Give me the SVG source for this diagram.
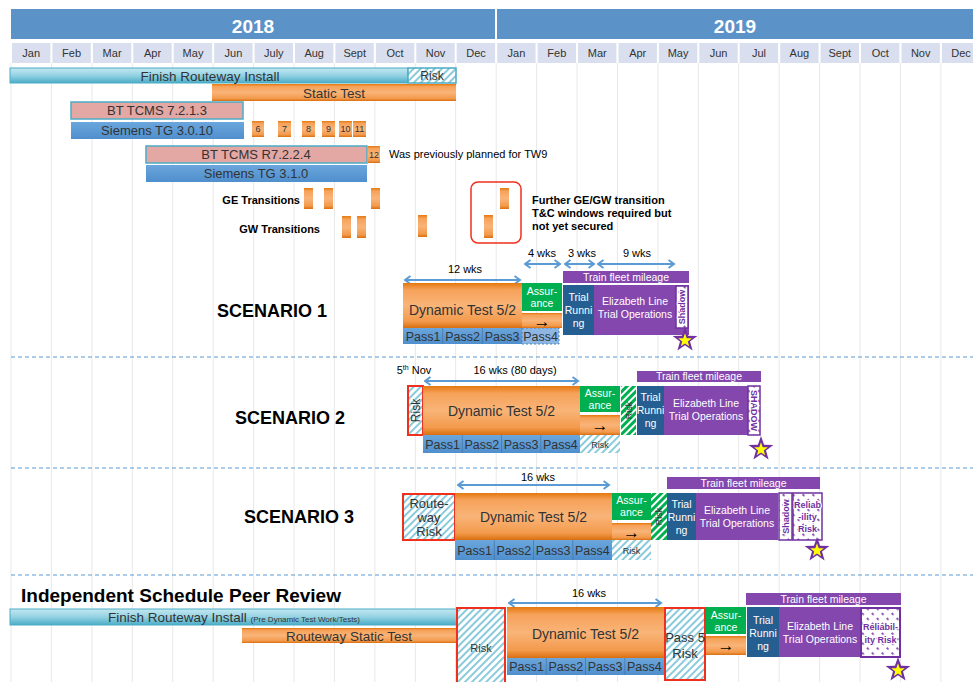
<svg xmlns="http://www.w3.org/2000/svg" xmlns:xlink="http://www.w3.org/1999/xlink" width="973" height="682" viewBox="0 0 973 682">
<style>
text{font-family:"Liberation Sans",Arial,sans-serif}
.m{font-size:11px;fill:#333;text-anchor:middle}
.yr{font-size:19px;font-weight:bold;fill:#fff;text-anchor:middle}
.b{font-size:13px;fill:#333;text-anchor:middle}
.d{font-size:14px;fill:#333;text-anchor:middle}
.p{font-size:12.5px;fill:#333;text-anchor:middle}
.ar{font-size:17px;fill:#000;text-anchor:middle}
.n{font-size:9px;fill:#333;text-anchor:middle}
.w{font-size:10.5px;fill:#fff;text-anchor:middle}
.k{font-size:11px;fill:#000}
.kb{font-size:11px;fill:#000;font-weight:bold}
.sc{font-size:18px;font-weight:bold;fill:#000}
.wk{font-size:11px;fill:#000;text-anchor:middle}
.sh{font-size:9px;fill:#7030A0;text-anchor:middle;stroke:#fff;stroke-width:2.2;paint-order:stroke;font-weight:bold}
.grid line{stroke:#E8E8E8;stroke-width:1}
.cell{fill:#D9DFEE}
.cy{fill:url(#gcy);stroke:#4BACC6;stroke-width:1}
.or{fill:url(#gor)}
.pk{fill:#E3A7A4;stroke:#4BACC6;stroke-width:1.5}
.bl{fill:url(#gbl)}
.gr{fill:#00B050}
.pu{fill:#8447AE}
.tr{fill:#255E91}
.rk{fill:url(#hc);stroke:#F0301C;stroke-width:2}
.hcy{fill:url(#hc)}
.hgr{fill:url(#hg)}
.hpu{fill:url(#hp);stroke:#7030A0;stroke-width:1.5}
.arr{stroke:#5B9BD5;stroke-width:2;fill:none;marker-start:url(#ah);marker-end:url(#ah)}
.sep{stroke:#5B9BD5;stroke-width:1.2;stroke-dasharray:4 3}
.ps{stroke:#3E6C9A;stroke-width:0.6}
</style>
<defs>
<linearGradient id="gcy" x1="0" y1="0" x2="0" y2="1"><stop offset="0" stop-color="#C4E8F1"/><stop offset="0.5" stop-color="#93D2E3"/><stop offset="1" stop-color="#4BACC6"/></linearGradient>
<linearGradient id="gor" x1="0" y1="0" x2="0" y2="1"><stop offset="0" stop-color="#E4780E"/><stop offset="0.15" stop-color="#F6A25A"/><stop offset="0.5" stop-color="#F9B478"/><stop offset="0.85" stop-color="#F39A4C"/><stop offset="1" stop-color="#D96F10"/></linearGradient>
<linearGradient id="gbl" x1="0" y1="0" x2="0" y2="1"><stop offset="0" stop-color="#6BA6DC"/><stop offset="1" stop-color="#4F8FCD"/></linearGradient>
<pattern id="hc" width="5" height="5" patternUnits="userSpaceOnUse" patternTransform="rotate(45)"><rect width="5" height="5" fill="#fff"/><line x1="1" y1="0" x2="1" y2="5" stroke="#6CBDD3" stroke-width="1.6"/></pattern>
<pattern id="hg" width="5" height="5" patternUnits="userSpaceOnUse" patternTransform="rotate(45)"><rect width="5" height="5" fill="#fff"/><line x1="1.5" y1="0" x2="1.5" y2="5" stroke="#00B050" stroke-width="3"/></pattern>
<pattern id="hp" width="7" height="7" patternUnits="userSpaceOnUse" patternTransform="rotate(-45)"><rect width="7" height="7" fill="#fff"/><line x1="1" y1="0" x2="1" y2="2.5" stroke="#8447AE" stroke-width="1.8"/></pattern>
<marker id="ah" markerWidth="8" markerHeight="10" refX="6.5" refY="5" orient="auto-start-reverse" markerUnits="userSpaceOnUse"><path d="M1,1 L6.5,5 L1,9" fill="none" stroke="#5B9BD5" stroke-width="2"/></marker>
<g id="star"><polygon points="0,-13 3.1,-4.3 12.4,-4 5,1.6 7.6,10.5 0,5.3 -7.6,10.5 -5,1.6 -12.4,-4 -3.1,-4.3" fill="#7030A0"/><polygon points="0,-13 3.1,-4.3 12.4,-4 5,1.6 7.6,10.5 0,5.3 -7.6,10.5 -5,1.6 -12.4,-4 -3.1,-4.3" fill="#FFFF00" transform="translate(0,0.5) scale(0.55)"/></g>
</defs>
<rect width="973" height="682" fill="#fff"/>

<g id="header">
<rect x="11" y="9" width="484" height="30" fill="#5B93C9"/>
<rect x="497" y="9" width="476" height="30" fill="#5B93C9"/>
<text class="yr" x="253" y="33">2018</text>
<text class="yr" x="735" y="33">2019</text>
<rect class="cell" x="12" y="43" width="38.4" height="20"/>
<rect class="cell" x="52.4" y="43" width="38.4" height="20"/>
<rect class="cell" x="92.9" y="43" width="38.4" height="20"/>
<rect class="cell" x="133.3" y="43" width="38.4" height="20"/>
<rect class="cell" x="173.7" y="43" width="38.4" height="20"/>
<rect class="cell" x="214.2" y="43" width="38.4" height="20"/>
<rect class="cell" x="254.6" y="43" width="38.4" height="20"/>
<rect class="cell" x="295" y="43" width="38.4" height="20"/>
<rect class="cell" x="335.4" y="43" width="38.4" height="20"/>
<rect class="cell" x="375.9" y="43" width="38.4" height="20"/>
<rect class="cell" x="416.3" y="43" width="38.4" height="20"/>
<rect class="cell" x="456.7" y="43" width="38.4" height="20"/>
<rect class="cell" x="497.2" y="43" width="38.4" height="20"/>
<rect class="cell" x="537.6" y="43" width="38.4" height="20"/>
<rect class="cell" x="578" y="43" width="38.4" height="20"/>
<rect class="cell" x="618.5" y="43" width="38.4" height="20"/>
<rect class="cell" x="658.9" y="43" width="38.4" height="20"/>
<rect class="cell" x="699.3" y="43" width="38.4" height="20"/>
<rect class="cell" x="739.7" y="43" width="38.4" height="20"/>
<rect class="cell" x="780.2" y="43" width="38.4" height="20"/>
<rect class="cell" x="820.6" y="43" width="38.4" height="20"/>
<rect class="cell" x="861" y="43" width="38.4" height="20"/>
<rect class="cell" x="901.5" y="43" width="38.4" height="20"/>
<rect class="cell" x="941.9" y="43" width="38.4" height="20"/>
<text class="m" x="31.2" y="57">Jan</text>
<text class="m" x="71.6" y="57">Feb</text>
<text class="m" x="112.1" y="57">Mar</text>
<text class="m" x="152.5" y="57">Apr</text>
<text class="m" x="193" y="57">May</text>
<text class="m" x="233.4" y="57">Jun</text>
<text class="m" x="273.8" y="57">July</text>
<text class="m" x="314.2" y="57">Aug</text>
<text class="m" x="354.7" y="57">Sept</text>
<text class="m" x="395.1" y="57">Oct</text>
<text class="m" x="435.5" y="57">Nov</text>
<text class="m" x="476" y="57">Dec</text>
<text class="m" x="516.4" y="57">Jan</text>
<text class="m" x="556.8" y="57">Feb</text>
<text class="m" x="597.2" y="57">Mar</text>
<text class="m" x="637.7" y="57">Apr</text>
<text class="m" x="678.1" y="57">May</text>
<text class="m" x="718.5" y="57">Jun</text>
<text class="m" x="759" y="57">Jul</text>
<text class="m" x="799.4" y="57">Aug</text>
<text class="m" x="839.8" y="57">Sept</text>
<text class="m" x="880.2" y="57">Oct</text>
<text class="m" x="920.7" y="57">Nov</text>
<text class="m" x="961.1" y="57">Dec</text>
</g>

<g class="grid">
<line x1="11" y1="63" x2="11" y2="682"/>
<line x1="51.4" y1="63" x2="51.4" y2="682"/>
<line x1="91.9" y1="63" x2="91.9" y2="682"/>
<line x1="132.3" y1="63" x2="132.3" y2="682"/>
<line x1="172.7" y1="63" x2="172.7" y2="682"/>
<line x1="213.2" y1="63" x2="213.2" y2="682"/>
<line x1="253.6" y1="63" x2="253.6" y2="682"/>
<line x1="294" y1="63" x2="294" y2="682"/>
<line x1="334.4" y1="63" x2="334.4" y2="682"/>
<line x1="374.9" y1="63" x2="374.9" y2="682"/>
<line x1="415.3" y1="63" x2="415.3" y2="682"/>
<line x1="455.7" y1="63" x2="455.7" y2="682"/>
<line x1="496.2" y1="63" x2="496.2" y2="682"/>
<line x1="536.6" y1="63" x2="536.6" y2="682"/>
<line x1="577" y1="63" x2="577" y2="682"/>
<line x1="617.5" y1="63" x2="617.5" y2="682"/>
<line x1="657.9" y1="63" x2="657.9" y2="682"/>
<line x1="698.3" y1="63" x2="698.3" y2="682"/>
<line x1="738.7" y1="63" x2="738.7" y2="682"/>
<line x1="779.2" y1="63" x2="779.2" y2="682"/>
<line x1="819.6" y1="63" x2="819.6" y2="682"/>
<line x1="860" y1="63" x2="860" y2="682"/>
<line x1="900.5" y1="63" x2="900.5" y2="682"/>
<line x1="940.9" y1="63" x2="940.9" y2="682"/>
</g>

<g id="separators">
<line class="sep" x1="11" y1="357" x2="973" y2="357"/>
<line class="sep" x1="11" y1="468" x2="973" y2="468"/>
<line class="sep" x1="11" y1="575" x2="973" y2="575"/>
</g>

<g id="routeway">
<rect class="cy" x="10" y="68" width="398" height="15"/>
<rect x="408" y="68" width="48" height="15" fill="url(#hc)" stroke="#4BACC6" stroke-width="1.5"/>
<text class="b" x="210" y="80.5" style="font-size:13.5px">Finish Routeway Install</text>
<text class="b" x="432" y="80" style="font-size:12px">Risk</text>
</g>
<g id="static">
<rect class="or" x="212" y="84" width="244" height="17"/>
<text class="b" x="334" y="97.5" style="font-size:13.5px">Static Test</text>
</g>
<g id="bt1">
<rect class="pk" x="71" y="102" width="172" height="17"/>
<text class="b" x="157" y="115">BT TCMS 7.2.1.3</text>
</g>
<g id="sie1">
<rect class="bl" x="71" y="122" width="173" height="17"/>
<text class="b" x="157" y="135">Siemens TG 3.0.10</text>
</g>
<g id="tw">
<rect class="or" x="252" y="121" width="12" height="16"/><text class="n" x="258" y="132">6</text>
<rect class="or" x="278" y="121" width="13" height="16"/><text class="n" x="284.5" y="132">7</text>
<rect class="or" x="302" y="121" width="13" height="16"/><text class="n" x="308.5" y="132">8</text>
<rect class="or" x="322" y="121" width="13" height="16"/><text class="n" x="328.5" y="132">9</text>
<rect class="or" x="339" y="121" width="13" height="16"/><text class="n" x="345.5" y="132">10</text>
<rect class="or" x="353" y="121" width="13" height="16"/><text class="n" x="359.5" y="132">11</text>
<rect class="or" x="368" y="146" width="12" height="17"/><text class="n" x="374" y="158">12</text>
</g>
<g id="bt2">
<rect class="pk" x="146" y="146" width="221" height="17"/>
<text class="b" x="256" y="159">BT TCMS R7.2.2.4</text>
<text class="k" x="389" y="158">Was previously planned for TW9</text>
</g>
<g id="sie2">
<rect class="bl" x="146" y="165" width="221" height="17"/>
<text class="b" x="256" y="178">Siemens TG 3.1.0</text>
</g>
<g id="transitions">
<text class="kb" x="300" y="204" text-anchor="end">GE Transitions</text>
<rect class="or" x="304" y="188" width="9" height="21"/>
<rect class="or" x="324" y="188" width="9" height="21"/>
<rect class="or" x="371" y="188" width="9" height="21"/>
<rect class="or" x="500" y="188" width="9" height="21"/>
<text class="kb" x="320" y="233" text-anchor="end">GW Transitions</text>
<rect class="or" x="342" y="216" width="9" height="22"/>
<rect class="or" x="357" y="216" width="9" height="22"/>
<rect class="or" x="418" y="215" width="9" height="22"/>
<rect class="or" x="484" y="215" width="9" height="23"/>
<rect x="471" y="182" width="50" height="61" rx="7" fill="none" stroke="#F0301C" stroke-width="1.5"/>
<text class="kb" x="532" y="204">Further GE/GW transition</text>
<text class="kb" x="532" y="217">T&amp;C windows required but</text>
<text class="kb" x="532" y="230">not yet secured</text>
</g>

<g id="connectors">
<line class="arr" x1="405" y1="280" x2="520" y2="280"/>
<line class="arr" x1="525" y1="264" x2="560" y2="264"/>
<line class="arr" x1="565" y1="264" x2="594" y2="264"/>
<line class="arr" x1="598" y1="264" x2="674" y2="264"/>
<line class="arr" x1="425" y1="381" x2="578" y2="381"/>
<line class="arr" x1="458" y1="485" x2="609" y2="485"/>
<line class="arr" x1="509" y1="603" x2="661" y2="603"/>
</g>

<g id="scenario1">
<text class="sc" x="217" y="317">SCENARIO 1</text>
<text class="wk" x="465" y="273">12 wks</text>
<text class="wk" x="542" y="257">4 wks</text>
<text class="wk" x="582" y="257">3 wks</text>
<text class="wk" x="637" y="257">9 wks</text>
<rect class="pu" x="563" y="271" width="126" height="12"/>
<text class="w" x="626" y="281">Train fleet mileage</text>
<rect class="or" x="403" y="283" width="119" height="45"/>
<text class="d" x="462.5" y="315">Dynamic Test 5/2</text>
<rect class="bl" x="403" y="328" width="119" height="16"/>
<line class="ps" x1="442.7" y1="328" x2="442.7" y2="344"/>
<line class="ps" x1="482.3" y1="328" x2="482.3" y2="344"/>
<text class="p" x="423" y="341">Pass1</text>
<text class="p" x="462.5" y="341">Pass2</text>
<text class="p" x="502" y="341">Pass3</text>
<rect x="522" y="328" width="37" height="16" fill="#8DB7E2" stroke="#4F81BD" stroke-width="1" stroke-dasharray="2 2"/>
<text class="p" x="540.5" y="341">Pass4</text>
<rect class="gr" x="522" y="283" width="40" height="28"/>
<text class="w" x="542" y="295">Assur-</text>
<text class="w" x="542" y="307">ance</text>
<rect class="or" x="522" y="313" width="40" height="15"/>
<text class="ar" x="542" y="327">→</text>
<rect class="tr" x="563" y="285" width="31" height="50"/>
<text class="w" x="578.5" y="301">Trial</text>
<text class="w" x="578.5" y="314">Runni</text>
<text class="w" x="578.5" y="327">ng</text>
<rect class="pu" x="594" y="285" width="95" height="50"/>
<text class="w" x="635" y="305">Elizabeth Line</text>
<text class="w" x="635" y="318">Trial Operations</text>
<rect class="hpu" x="676" y="286" width="12" height="42"/>
<text class="sh" transform="translate(685,307) rotate(-90)">Shadow</text>
<use xlink:href="#star" href="#star" x="685" y="340"/>
</g>

<g id="scenario2">
<text class="sc" x="235" y="424">SCENARIO 2</text>
<text class="wk" x="414" y="374" text-anchor="start">5<tspan font-size="7" dy="-4">th</tspan><tspan dy="4"> Nov</tspan></text>
<text class="wk" x="515" y="374">16 wks (80 days)</text>
<rect class="pu" x="637" y="371" width="124" height="11"/>
<text class="w" x="699" y="380">Train fleet mileage</text>
<rect class="rk" x="408" y="386" width="15" height="49"/>
<text class="b" transform="translate(420,410.5) rotate(-90)" style="font-size:12px">Risk</text>
<rect class="or" x="423" y="386" width="157" height="49"/>
<text class="d" x="501.5" y="416">Dynamic Test 5/2</text>
<rect class="bl" x="423" y="435" width="157" height="18"/>
<line class="ps" x1="462.3" y1="435" x2="462.3" y2="453"/>
<line class="ps" x1="501.5" y1="435" x2="501.5" y2="453"/>
<line class="ps" x1="540.8" y1="435" x2="540.8" y2="453"/>
<text class="p" x="442.6" y="449">Pass1</text>
<text class="p" x="481.9" y="449">Pass2</text>
<text class="p" x="521.1" y="449">Pass3</text>
<text class="p" x="560.4" y="449">Pass4</text>
<rect class="gr" x="580" y="386" width="40" height="26"/>
<text class="w" x="600" y="397">Assur-</text>
<text class="w" x="600" y="409">ance</text>
<rect class="or" x="580" y="415" width="40" height="20"/>
<text class="ar" x="600" y="431">→</text>
<rect class="hcy" x="580" y="435" width="40" height="18"/>
<text class="n" x="600" y="448">Risk</text>
<rect class="hgr" x="621" y="386" width="15" height="49"/>
<text class="n" transform="translate(631.5,410.5) rotate(-90)">Risk</text>
<rect class="tr" x="637" y="386" width="27" height="49"/>
<text class="w" x="650.5" y="401">Trial</text>
<text class="w" x="650.5" y="414">Runni</text>
<text class="w" x="650.5" y="427">ng</text>
<rect class="pu" x="664" y="386" width="84" height="49"/>
<text class="w" x="706" y="407">Elizabeth Line</text>
<text class="w" x="706" y="420">Trial Operations</text>
<rect class="hpu" x="748" y="386" width="12" height="49"/>
<text class="sh" transform="translate(751,410.5) rotate(90)">SHADOW</text>
<use xlink:href="#star" href="#star" x="761" y="449"/>
</g>

<g id="scenario3">
<text class="sc" x="244" y="523">SCENARIO 3</text>
<text class="wk" x="538" y="481">16 wks</text>
<rect class="pu" x="667" y="477" width="153" height="12"/>
<text class="w" x="743.5" y="487">Train fleet mileage</text>
<rect class="rk" x="403" y="494" width="52" height="46"/>
<text class="b" x="429" y="508">Route-</text>
<text class="b" x="429" y="522">way</text>
<text class="b" x="429" y="536">Risk</text>
<rect class="or" x="455" y="493" width="157" height="47"/>
<text class="d" x="533.5" y="522">Dynamic Test 5/2</text>
<rect class="bl" x="455" y="540" width="157" height="20"/>
<line class="ps" x1="494.3" y1="540" x2="494.3" y2="560"/>
<line class="ps" x1="533.5" y1="540" x2="533.5" y2="560"/>
<line class="ps" x1="572.8" y1="540" x2="572.8" y2="560"/>
<text class="p" x="474.6" y="555">Pass1</text>
<text class="p" x="513.9" y="555">Pass2</text>
<text class="p" x="553.1" y="555">Pass3</text>
<text class="p" x="592.4" y="555">Pass4</text>
<rect class="gr" x="612" y="493" width="39" height="27"/>
<text class="w" x="631.5" y="504">Assur-</text>
<text class="w" x="631.5" y="516">ance</text>
<rect class="or" x="612" y="523" width="39" height="17"/>
<text class="ar" x="631.5" y="538">→</text>
<rect class="hcy" x="612" y="540" width="39" height="20"/>
<text class="n" x="631.5" y="554">Risk</text>
<rect class="hgr" x="651" y="493" width="16" height="47"/>
<text class="n" transform="translate(662,516.5) rotate(-90)">Risk</text>
<rect class="tr" x="667" y="493" width="29" height="47"/>
<text class="w" x="681.5" y="508">Trial</text>
<text class="w" x="681.5" y="521">Runni</text>
<text class="w" x="681.5" y="534">ng</text>
<rect class="pu" x="696" y="493" width="82" height="47"/>
<text class="w" x="737" y="514">Elizabeth Line</text>
<text class="w" x="737" y="527">Trial Operations</text>
<rect class="hpu" x="779" y="493" width="13" height="47"/>
<text class="sh" transform="translate(788.5,516.5) rotate(-90)">Shadow</text>
<rect class="hpu" x="793" y="493" width="29" height="47"/>
<text class="sh" x="807.5" y="508">Reliab</text>
<text class="sh" x="807.5" y="520">-ility</text>
<text class="sh" x="807.5" y="532">Risk</text>
<use xlink:href="#star" href="#star" x="817" y="550"/>
</g>

<g id="peerreview">
<text x="21" y="602" style="font-size:19px;font-weight:bold;fill:#000">Independent Schedule Peer Review</text>
<rect class="cy" x="10" y="609" width="447" height="16"/>
<text class="b" x="234" y="622" style="font-size:13.5px">Finish Routeway Install <tspan style="font-size:8px">(Pre Dynamic Test Work/Tests)</tspan></text>
<rect class="or" x="242" y="628" width="215" height="15"/>
<text class="b" x="349" y="641" style="font-size:13.5px">Routeway Static Test</text>
<rect class="rk" x="457" y="608" width="48" height="76"/>
<text class="b" x="481" y="652" style="font-size:11px">Risk</text>
<text class="wk" x="589" y="597">16 wks</text>
<rect class="pu" x="746" y="593" width="155" height="12"/>
<text class="w" x="823.5" y="603">Train fleet mileage</text>
<rect class="or" x="507" y="607" width="157" height="51"/>
<text class="d" x="585.5" y="639">Dynamic Test 5/2</text>
<rect class="bl" x="507" y="658" width="157" height="17"/>
<line class="ps" x1="546.3" y1="658" x2="546.3" y2="675"/>
<line class="ps" x1="585.5" y1="658" x2="585.5" y2="675"/>
<line class="ps" x1="624.8" y1="658" x2="624.8" y2="675"/>
<text class="p" x="526.6" y="671">Pass1</text>
<text class="p" x="565.9" y="671">Pass2</text>
<text class="p" x="605.1" y="671">Pass3</text>
<text class="p" x="644.4" y="671">Pass4</text>
<rect class="rk" x="665" y="608" width="40" height="72"/>
<text class="b" x="685" y="642">Pass 5</text>
<text class="b" x="685" y="658">Risk</text>
<rect class="gr" x="706" y="607" width="40" height="27"/>
<text class="w" x="726" y="619">Assur-</text>
<text class="w" x="726" y="631">ance</text>
<rect class="or" x="706" y="636" width="40" height="19"/>
<text class="ar" x="726" y="651">→</text>
<rect class="tr" x="747" y="607" width="32" height="50"/>
<text class="w" x="763" y="624">Trial</text>
<text class="w" x="763" y="637">Runni</text>
<text class="w" x="763" y="650">ng</text>
<rect class="pu" x="779" y="607" width="82" height="50"/>
<text class="w" x="820" y="630">Elizabeth Line</text>
<text class="w" x="820" y="643">Trial Operations</text>
<rect class="hpu" x="861" y="608" width="39" height="49" style="stroke-width:2"/>
<text class="sh" x="880.5" y="630">Reliabil-</text>
<text class="sh" x="880.5" y="643">ity Risk</text>
<use xlink:href="#star" href="#star" x="898" y="670"/>
</g>
</svg>
